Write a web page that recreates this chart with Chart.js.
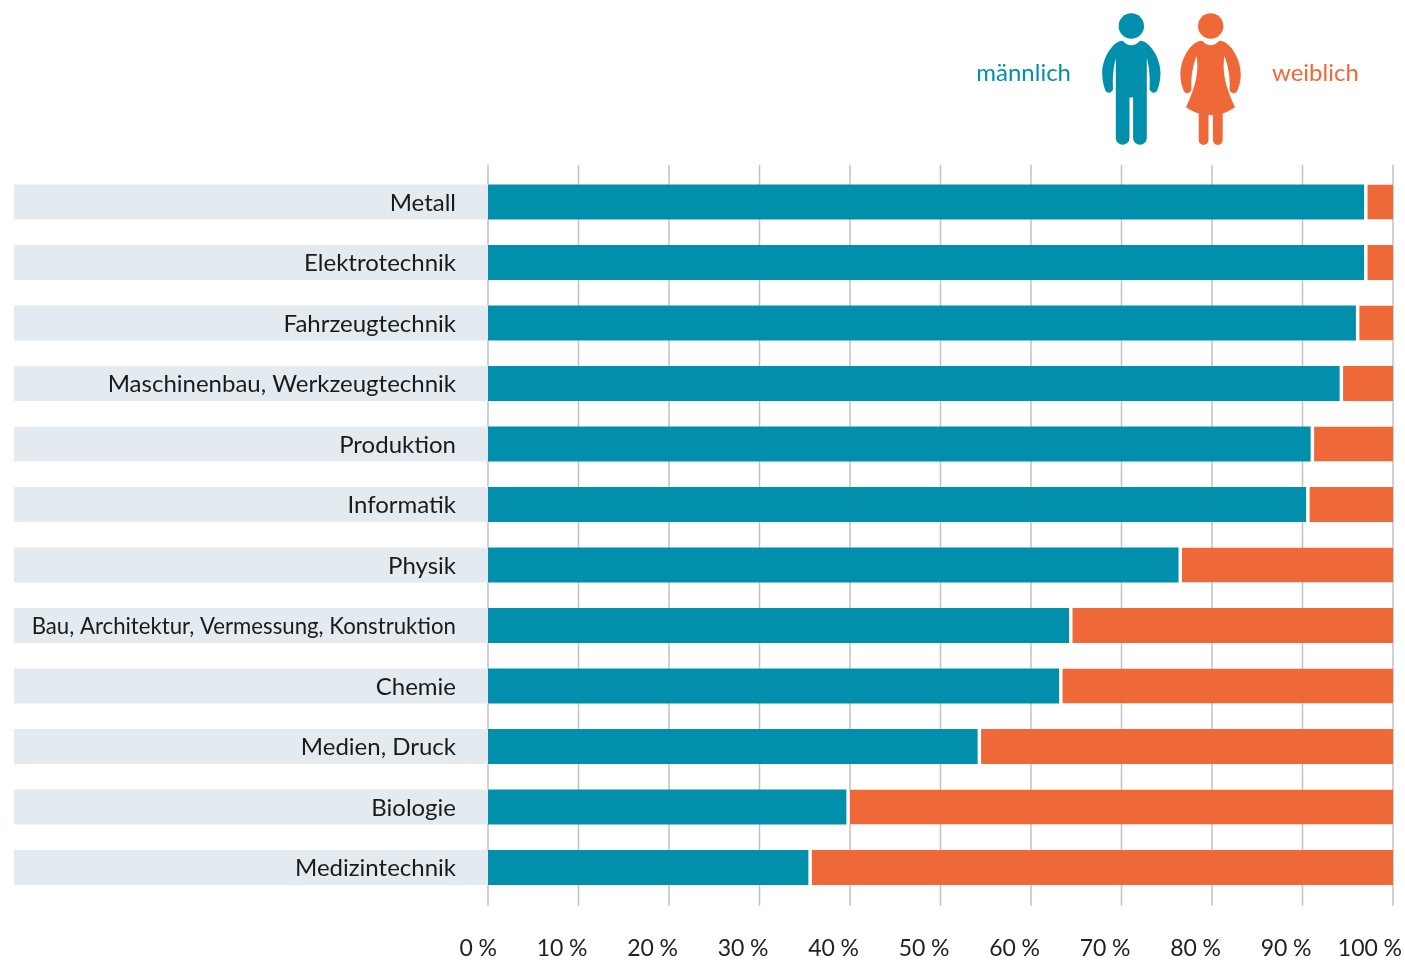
<!DOCTYPE html>
<html lang="de">
<head>
<meta charset="utf-8">
<title>Geschlechterverteilung</title>
<script src="https://cdn.jsdelivr.net/npm/chart.js@4"></script>
<style>html,body{margin:0;padding:0;background:#fff}canvas{display:block}</style>
</head>
<body>
<canvas id="c" width="1405" height="960"></canvas>
<script>
const categories = ["Metall","Elektrotechnik","Fahrzeugtechnik","Maschinenbau, Werkzeugtechnik","Produktion","Informatik","Physik","Bau, Architektur, Vermessung, Konstruktion","Chemie","Medien, Druck","Biologie","Medizintechnik"];
const maennlich = [96.8,96.8,95.9,94.1,90.9,90.4,76.3,64.2,63.1,54.1,39.6,35.4];
const weiblich  = [3.2,3.2,4.1,5.9,9.1,9.6,23.7,35.8,36.9,45.9,60.4,64.6];
const xTicks = [0,10,20,30,40,50,60,70,80,90,100];
const TEAL = "#028fac", ORANGE = "#ee6838", BAND = "#e3ebf1", GRID = "#c2c2c2";
const FONT = "Lato, 'Open Sans', sans-serif";

const backdrop = {
  id: "backdrop",
  beforeDraw(chart) {
    const {ctx, scales:{x,y}, chartArea:a} = chart;
    ctx.save();
    ctx.strokeStyle = GRID; ctx.lineWidth = 1.5;
    xTicks.forEach(v => {
      const px = x.getPixelForValue(v);
      ctx.beginPath(); ctx.moveTo(px, a.top - 7); ctx.lineTo(px, a.bottom + 8); ctx.stroke();
    });
    ctx.fillStyle = BAND;
    categories.forEach((c,i) => {
      const py = y.getPixelForValue(i);
      ctx.fillRect(14, py - 17.5, a.left - 14, 35);
    });
    ctx.restore();
  }
};

const key = {
  id: "key",
  afterDraw(chart) {
    const {ctx} = chart;
    ctx.save();
    ctx.font = "24px " + FONT;
    ctx.textBaseline = "alphabetic";
    ctx.textAlign = "right"; ctx.fillStyle = TEAL; ctx.fillText("männlich", 1071, 81);
    ctx.textAlign = "left";  ctx.fillStyle = ORANGE; ctx.fillText("weiblich", 1272, 81);
    ctx.fillStyle = TEAL;
    ctx.beginPath(); ctx.arc(1131.3, 26, 12.7, 0, 7); ctx.fill();
    ctx.fill(new Path2D("M1122.7 40.7Q1131.3 50 1140 40.7C1150 41 1160.5 58 1160.5 73C1160.5 80 1159 86 1157 91A4.2 4.2 0 0 1 1149.5 89C1150.2 80 1149.5 68 1146.8 58L1146.8 138A6.85 6.85 0 0 1 1133.1 138L1133.1 97.5L1129.5 97.5L1129.5 138A6.85 6.85 0 0 1 1115.8 138L1115.8 58C1113.1 68 1112.4 80 1113.1 89A4.2 4.2 0 0 1 1105.6 91C1103.6 86 1102.2 80 1102.2 73C1102.2 58 1112.7 41 1122.7 40.7Z"));
    ctx.fillStyle = ORANGE;
    ctx.beginPath(); ctx.arc(1210.7, 26, 12.7, 0, 7); ctx.fill();
    ctx.fill(new Path2D("M1202.2 40.7Q1210.7 50 1219.2 40.7C1230 41 1240.8 58 1240.8 75C1240.8 81 1239 87 1237 91.5A4.2 4.2 0 0 1 1229.5 89.5C1230.5 76 1227.5 64 1224.5 56C1222 70 1224.5 85 1235 107.3C1231 110 1226 112.5 1222.7 113.5L1222.7 140A4.9 4.9 0 0 1 1212.9 140L1212.9 115L1208.5 115L1208.5 140A4.9 4.9 0 0 1 1198.7 140L1198.7 113.5C1195 112.5 1190 110 1186 107.3C1196.5 85 1199 70 1196.5 56C1193.5 64 1190.5 76 1191.5 89.5A4.2 4.2 0 0 1 1184 91.5C1182 87 1180.4 81 1180.4 75C1180.4 58 1191 41 1202.2 40.7Z"));
    ctx.restore();
  }
};

new Chart(document.getElementById("c"), {
  type: "bar",
  data: {
    labels: categories,
    datasets: [
      {label:"männlich", data:maennlich, backgroundColor:TEAL, barThickness:35, borderWidth:0, inflateAmount:0},
      {label:"weiblich", data:weiblich, backgroundColor:ORANGE, barThickness:35, borderSkipped:false, inflateAmount:0,
       borderColor:"#ffffff", borderWidth:{left:3.5,right:0,top:0,bottom:0}}
    ]
  },
  plugins: [backdrop, key],
  options: {
    indexAxis: "y",
    responsive: false,
    animation: false,
    layout: {padding:{top:171.75,right:12,bottom:0,left:0}},
    plugins: {legend:{display:false}, tooltip:{enabled:false}},
    scales: {
      x: {
        stacked:true, min:0, max:100,
        grid:{display:false}, border:{display:false},
        afterBuildTicks(s){ s.ticks = xTicks.map(v=>({value:v})); },
        afterFit(s){ s.height = 62.25; s.paddingLeft = 0; s.paddingRight = 0; },
        ticks:{ maxRotation:0, minRotation:0, autoSkip:false, padding:29, align:"end", labelOffset:9,
          color:"#222222", font:{family:FONT,size:23},
          callback:v=>v+"\u202f%" }
      },
      y: {
        stacked:true,
        grid:{display:false, drawTicks:false}, border:{display:false},
        afterFit(s){ s.width = 488; },
        ticks:{ padding:32, labelOffset:1, color:"#1a1a1a", autoSkip:false,
          font:c=>({family:FONT,size:categories[c.index] && categories[c.index].length>35 ? 22.2 : 24}) }
      }
    }
  }
});
</script>
</body>
</html>
